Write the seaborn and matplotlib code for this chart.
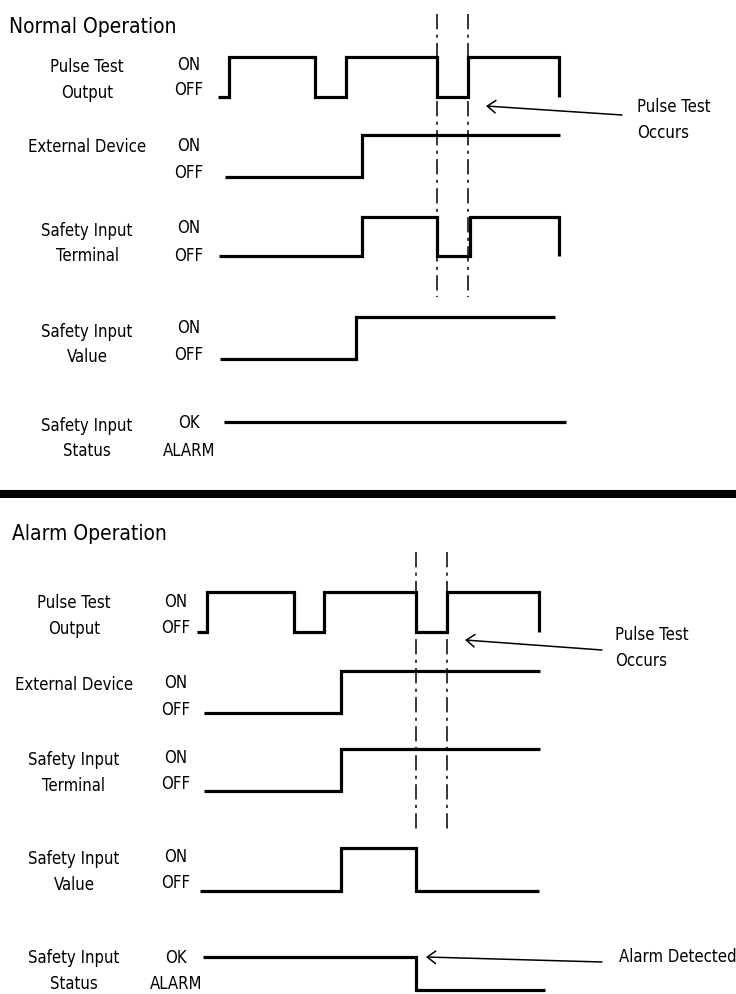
import pandas as pd
import seaborn as sns
import matplotlib.pyplot as plt
from matplotlib import font_manager
from matplotlib.font_manager import FontProperties

sns.set_theme(style="white")
plt.rcParams['text.color'] = 'black'

# look for a narrow / condensed regular face, the sheet uses a condensed font
def is_narrow(f):
    return (str(f.stretch) in ('condensed', 'semi-condensed', 'extra-condensed')
            or 'Narrow' in f.name or 'Condensed' in f.name)

regular = [f for f in font_manager.fontManager.ttflist
           if f.style == 'normal' and f.weight in (400, 'normal', 'regular', 'book')]
narrow = [f for f in regular if is_narrow(f)]
narrow.sort(key=lambda f: (str(f.stretch) != 'condensed',
                           f.name not in ('Liberation Sans Narrow', 'Noto Sans',
                                          'DejaVu Sans', 'Roboto', 'Open Sans')))
if narrow:
    FONT_FILE = narrow[0].fname
    FS, TS = 12, 15
else:
    FONT_FILE = font_manager.findfont('Roboto')
    FS, TS = 11, 14


def fp(size):
    return FontProperties(fname=FONT_FILE, size=size)


# sheet size in pixels
W, H = 736, 994

# ---- data ----
row_labels = ["Pulse Test\nOutput", "External Device", "Safety Input\nTerminal",
              "Safety Input\nValue", "Safety Input\nStatus"]
state_hi = ["ON", "ON", "ON", "ON", "OK"]
state_lo = ["OFF", "OFF", "OFF", "OFF", "ALARM"]

# edge times and level after each edge (1 = ON / OK, 0 = OFF / ALARM)
normal_pulse_t = [218, 229, 315, 346, 437, 468, 559]
normal_pulse_v = [0, 1, 0, 1, 0, 1, 0]
normal_ext_t = [225, 361.5, 560]
normal_ext_v = [0, 1, 1]
normal_term_t = [219, 361.5, 437, 469.5, 559]
normal_term_v = [0, 1, 0, 1, 0]
normal_value_t = [220, 356, 555]
normal_value_v = [0, 1, 1]
normal_status_t = [224, 566]
normal_status_v = [1, 1]
normal_test_window = [437, 468]

alarm_pulse_t = [197, 207, 294, 324, 415.5, 447, 538.5]
alarm_pulse_v = [0, 1, 0, 1, 0, 1, 0]
alarm_ext_t = [204, 341, 540]
alarm_ext_v = [0, 1, 1]
alarm_term_t = [204, 341, 540]
alarm_term_v = [0, 1, 1]
alarm_value_t = [200, 341, 415.5, 539]
alarm_value_v = [0, 1, 0, 0]
alarm_status_t = [203, 415.5, 545]
alarm_status_v = [1, 0, 0]
alarm_test_window = [415.5, 447]

normal_rows = [(normal_pulse_t, normal_pulse_v), (normal_ext_t, normal_ext_v),
               (normal_term_t, normal_term_v), (normal_value_t, normal_value_v),
               (normal_status_t, normal_status_v)]
alarm_rows = [(alarm_pulse_t, alarm_pulse_v), (alarm_ext_t, alarm_ext_v),
              (alarm_term_t, alarm_term_v), (alarm_value_t, alarm_value_v),
              (alarm_status_t, alarm_status_v)]

# ---- layout (pixels) ----
# per row: y of ON level, y of OFF level, label y, ON-text y, OFF-text y
normal_geo = [(57, 97, 80, 65, 90), (135, 177, 147, 146, 173),
              (217, 256, 243.5, 228, 256), (317, 359, 344.5, 328, 355),
              (422, 455, 438.5, 423, 451)]
alarm_geo = [(592, 632, 616, 602, 628), (671, 713, 685, 683, 710),
             (749, 791, 773, 758, 784), (848, 891, 872, 857, 883),
             (957, 990, 971, 958, 984)]

fig = plt.figure(figsize=(W / 100, H / 100), dpi=100)
base = fig.add_axes([0, 0, 1, 1])
base.set_xlim(0, W)
base.set_ylim(H, 0)
base.axis('off')


def draw_signal(t, v, y_on, y_off):
    ax = fig.add_axes([0, 1 - y_off / H, 1, (y_off - y_on) / H])
    ax.set_xlim(0, W)
    ax.set_ylim(0, 1)
    ax.axis('off')
    df = pd.DataFrame({'t': t, 'level': v})
    sns.lineplot(data=df, x='t', y='level', ax=ax, color='black', lw=2.3,
                 drawstyle='steps-post', estimator=None, sort=False,
                 solid_joinstyle='miter', solid_capstyle='butt', clip_on=False)


def draw_panel(rows, geo, label_x, state_x):
    for (t, v), (y_on, y_off, ly, y_hi, y_lo), lab, hi, lo in zip(
            rows, geo, row_labels, state_hi, state_lo):
        draw_signal(t, v, y_on, y_off)
        base.text(label_x, ly, lab, ha='center', va='center', fontproperties=fp(FS),
                  linespacing=1.55, multialignment='center')
        base.text(state_x, y_hi, hi, ha='center', va='center', fontproperties=fp(FS))
        base.text(state_x, y_lo, lo, ha='center', va='center', fontproperties=fp(FS))


def arrow(head, tail):
    base.annotate('', xy=head, xytext=tail,
                  arrowprops=dict(arrowstyle='->,head_length=0.6,head_width=0.45',
                                  lw=1.1, color='black', mutation_scale=10,
                                  shrinkA=0, shrinkB=0))


# normal operation
base.text(9, 33, "Normal Operation", ha='left', va='baseline', fontproperties=fp(TS))
draw_panel(normal_rows, normal_geo, 87, 189)
base.vlines(normal_test_window, 14, 297, color='black', lw=1.1,
            linestyles=[(0, (10, 3.5, 2, 3.5))])
arrow((486, 106), (622, 115))
base.text(637, 120, "Pulse Test\nOccurs", ha='left', va='center', fontproperties=fp(FS),
          linespacing=1.55)

# separator
base.axhline(494, color='black', lw=5.8)

# alarm operation
base.text(12, 540, "Alarm Operation", ha='left', va='baseline', fontproperties=fp(TS))
draw_panel(alarm_rows, alarm_geo, 74, 176)
base.vlines(alarm_test_window, 552, 833, color='black', lw=1.1,
            linestyles=[(0, (10, 3.5, 2, 3.5))])
arrow((465, 640), (602, 650))
base.text(615, 648, "Pulse Test\nOccurs", ha='left', va='center', fontproperties=fp(FS),
          linespacing=1.55)
arrow((426, 957), (602, 962))
base.text(619, 957, "Alarm Detected", ha='left', va='center', fontproperties=fp(FS))

fig.savefig('out.png', dpi=100)
